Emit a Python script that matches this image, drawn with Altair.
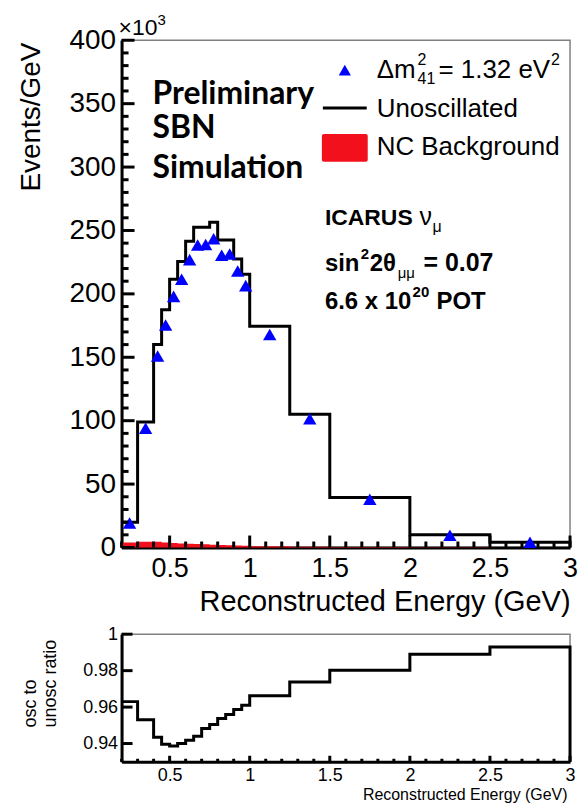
import altair as alt
import pandas as pd

# ---------------- data ----------------
EDGES = [0.2, 0.3, 0.4, 0.45, 0.5, 0.55, 0.6, 0.65, 0.7, 0.75, 0.8,
         0.85, 0.9, 0.95, 1.0, 1.25, 1.5, 2.0, 2.5, 3.0]
UNOSC = [20, 99, 160, 187.5, 211.5, 225.5, 241.5, 252.5, 252.5, 256.5,
         242.5, 242.5, 227.5, 215.5, 174.5, 105, 39.5, 10, 4.2]
OSC = [19.3, 94, 151, 175.5, 198, 211.5, 227, 238.5, 239, 243.5,
       230.5, 231.5, 218, 206.5, 168, 101.5, 38, 9.6, 4.1]
NC = [4.0, 4.5, 4.5, 4.0, 3.5, 3.2, 3.0, 2.7, 2.5, 2.2,
      2.0, 1.8, 1.6, 1.4, 1.0, 0.6, 0.3, 0.1, 0.05]
RATIO = [0.963, 0.953, 0.9435, 0.9396, 0.9387, 0.940, 0.9418, 0.944, 0.9482, 0.9504,
         0.9537, 0.9559, 0.9587, 0.961, 0.9662, 0.9738, 0.9802, 0.989, 0.993]

X_MAJOR = [0.5, 1.0, 1.5, 2.0, 2.5, 3.0]
X_MINOR = [0.2, 0.3, 0.4, 0.6, 0.7, 0.8, 0.9, 1.1, 1.2, 1.3, 1.4, 1.6, 1.7, 1.8, 1.9,
           2.1, 2.2, 2.3, 2.4, 2.6, 2.7, 2.8, 2.9]
Y_MAJOR = [0, 50, 100, 150, 200, 250, 300, 350, 400]
Y_MINOR = [v for v in range(10, 400, 10) if v % 50]
R_MAJOR = [0.94, 0.96, 0.98, 1.0]
R_MIN, R_MAX = 0.93, 1.0

FONT = "Liberation Sans"
BLUE = "#0000ff"
RED = "#f2101c"

W, H_TOP, H_BOT = 450, 509, 128

step = pd.DataFrame({
    "e": EDGES,
    "unosc": UNOSC + [0],
    "nc": NC + [0],
    "ratio": RATIO + [R_MIN],
})
centers = [(a + b) / 2 for a, b in zip(EDGES[:-1], EDGES[1:])]
pts = pd.DataFrame({"c": centers, "osc": OSC})

XS = alt.Scale(domain=[0.2, 3.0], nice=False, zero=False)
YS = alt.Scale(domain=[0, 400], nice=False, zero=True)
RS = alt.Scale(domain=[R_MIN, R_MAX], nice=False, zero=False)


def text(t, x, y, size, weight="normal", font=FONT, align="left"):
    return alt.Chart(pd.DataFrame({"t": [t]})).mark_text(
        align=align, baseline="alphabetic", font=font, fontSize=size,
        fontWeight=weight, color="black"
    ).encode(x=alt.value(x), y=alt.value(y), text="t:N")


def yticks(vals, length, scale, w=3):
    return alt.Chart(pd.DataFrame({"v": vals})).mark_rule(color="black", strokeWidth=w).encode(
        y=alt.Y("v:Q", scale=scale), x=alt.value(0), x2=alt.value(length))


def xticks(vals, length, scale, h, w=3):
    return alt.Chart(pd.DataFrame({"v": vals})).mark_rule(color="black", strokeWidth=w).encode(
        x=alt.X("v:Q", scale=scale), y=alt.value(h), y2=alt.value(h - length))


# ---------------- top panel ----------------
x_axis_top = alt.Axis(
    values=X_MAJOR, format="~g", ticks=False, grid=False, domainColor="black", domainWidth=3,
    labelFont=FONT, labelFontSize=27, labelColor="black", labelPadding=8,
    labelFlush=False, labelOverlap=False,
    title="Reconstructed Energy (GeV)", titleFont=FONT, titleFontSize=29,
    titleFontWeight="normal", titleColor="black", titleX=W, titleY=63,
    titleAlign="right", titleBaseline="alphabetic")
y_axis_top = alt.Axis(
    values=Y_MAJOR, format="d", ticks=False, grid=False, domainColor="black", domainWidth=3,
    labelFont=FONT, labelFontSize=28, labelColor="black", labelPadding=6,
    labelFlush=False, labelOverlap=False,
    title="Events/GeV", titleFont=FONT, titleFontSize=28, titleFontWeight="normal",
    titleColor="black", titleX=-82, titleY=2, titleAngle=270, titleAlign="right",
    titleBaseline="alphabetic")

nc_area = alt.Chart(step).mark_area(interpolate="step-after", color=RED, opacity=1).encode(
    x=alt.X("e:Q", scale=XS, axis=x_axis_top),
    y=alt.Y("nc:Q", scale=YS, axis=y_axis_top))
unosc_line = alt.Chart(step).mark_line(interpolate="step-after", color="black", strokeWidth=3).encode(
    x=alt.X("e:Q", scale=XS),
    y=alt.Y("unosc:Q", scale=YS))
osc_pts = alt.Chart(pts).mark_point(shape="triangle-up", filled=True, size=180, color=BLUE, opacity=1).encode(
    x=alt.X("c:Q", scale=XS),
    y=alt.Y("osc:Q", scale=YS))

one = pd.DataFrame({"t": [""]})
leg_tri = alt.Chart(one).mark_point(shape="triangle-up", filled=True, size=150, color=BLUE, opacity=1).encode(
    x=alt.value(224), y=alt.value(30))
leg_line = alt.Chart(one).mark_rule(color="black", strokeWidth=3).encode(
    x=alt.value(202), x2=alt.value(246), y=alt.value(68))
leg_box = alt.Chart(one).mark_rect(color=RED, cornerRadius=2).encode(
    x=alt.value(201), x2=alt.value(247), y=alt.value(94), y2=alt.value(122))

top_texts = [
    text("×10", -3, -5, 23),
    text("3", 36, -15, 15),
    text("Preliminary", 31, 64, 32, "bold", "Lato"),
    text("SBN", 31, 98, 32, "bold", "Lato"),
    text("Simulation", 31, 138, 32, "bold", "Lato"),
    text("Δm", 256, 38, 26),
    text("2", 297, 25, 16),
    text("41", 297, 44, 16),
    text("= 1.32 eV", 318, 38, 26),
    text("2", 431, 25, 16),
    text("Unoscillated", 256, 77, 26),
    text("NC Background", 256, 115, 26),
    # ICARUS block
    text("ICARUS", 204, 185, 23, "bold"),
    text("ν", 299, 185, 25),
    text("μ", 312, 192, 16),
    text("sin", 204, 232, 24, "bold"),
    text("2", 240, 220, 15, "bold"),
    text("2θ", 249, 232, 24, "bold"),
    text("μμ", 277, 239, 15),
    text("= 0.07", 303, 232, 25, "bold"),
    text("6.6 x 10", 204, 270, 24, "bold"),
    text("20", 292, 258, 15, "bold"),
    text("POT", 316, 270, 24, "bold"),
]

top = alt.layer(
    nc_area, unosc_line, osc_pts,
    yticks(Y_MAJOR, 13, YS), yticks(Y_MINOR, 7, YS),
    xticks(X_MAJOR, 12, XS, H_TOP), xticks(X_MINOR, 6, XS, H_TOP),
    leg_tri, leg_line, leg_box, *top_texts,
).properties(width=W, height=H_TOP)

# ---------------- bottom (ratio) panel ----------------
x_axis_bot = alt.Axis(
    values=X_MAJOR, format="~g", ticks=False, grid=False, domainColor="black", domainWidth=3,
    labelFont=FONT, labelFontSize=18, labelColor="black", labelPadding=5,
    labelFlush=False, labelOverlap=False,
    title="Reconstructed Energy (GeV)", titleFont=FONT, titleFontSize=16,
    titleFontWeight="normal", titleColor="black", titleX=W - 3, titleY=38,
    titleAlign="right", titleBaseline="alphabetic")
y_axis_bot = alt.Axis(
    values=R_MAJOR, format="~g", ticks=False, grid=False, domainColor="black", domainWidth=3,
    labelFont=FONT, labelFontSize=18, labelColor="black", labelPadding=4,
    labelFlush=False, labelOverlap=False,
    title=["osc to", "unosc ratio"], titleFont=FONT, titleFontSize=18, titleFontWeight="normal",
    titleColor="black", titleX=-86, titleY=93, titleAngle=270, titleAlign="left",
    titleBaseline="alphabetic", titleLineHeight=20)

ratio_line = alt.Chart(step).mark_line(interpolate="step-after", color="black", strokeWidth=3).encode(
    x=alt.X("e:Q", scale=XS, axis=x_axis_bot),
    y=alt.Y("ratio:Q", scale=RS, axis=y_axis_bot))

bottom = alt.layer(
    ratio_line,
    yticks(R_MAJOR, 11, RS),
    xticks(X_MAJOR, 6, XS, H_BOT), xticks(X_MINOR, 3, XS, H_BOT),
).properties(width=W, height=H_BOT)

chart = alt.vconcat(top, bottom, spacing=87, bounds="flush").properties(
    padding={"left": 17, "top": 11, "right": 0, "bottom": 0},
    background="white",
).configure_view(stroke="#808080", strokeWidth=1.5)

chart.save("out.html", embed_options={"renderer": "svg", "actions": False})
